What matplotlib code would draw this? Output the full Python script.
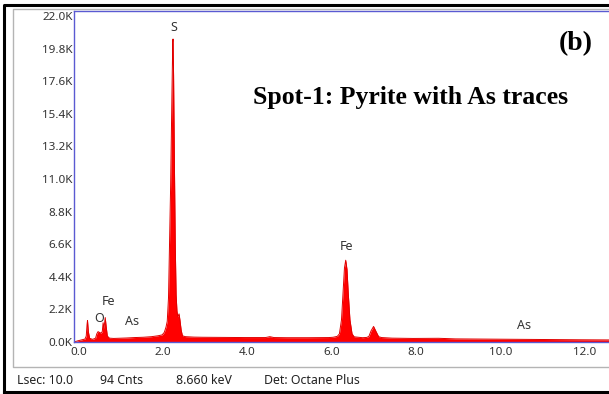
import matplotlib
matplotlib.use("Agg")
import matplotlib.pyplot as plt
import matplotlib.transforms as mtrans
from matplotlib.lines import Line2D

# EDS spectrum, spot 1 (energy in keV, counts)
energy = [-0.04, 0.05, 0.15, 0.22, 0.25, 0.27, 0.28, 0.30, 0.33, 0.40,
          0.47, 0.50, 0.53, 0.56, 0.60, 0.63, 0.65, 0.67, 0.70, 0.72,
          0.75, 0.80, 0.90, 1.00, 1.20, 1.40, 1.60, 1.80, 1.95, 2.05,
          2.10, 2.14, 2.17, 2.20, 2.22, 2.25, 2.28, 2.30, 2.307, 2.32,
          2.34, 2.36, 2.38, 2.40, 2.42, 2.45, 2.47, 2.50, 2.53, 2.60,
          2.80, 3.00, 3.50, 4.00, 4.50, 4.60, 4.70, 5.00, 5.50, 6.00,
          6.10, 6.20, 6.25, 6.30, 6.34, 6.37, 6.40, 6.43, 6.46, 6.50,
          6.55, 6.60, 6.80, 6.90, 6.95, 7.00, 7.06, 7.12, 7.18, 7.25,
          7.50, 8.00, 8.60, 9.00, 10.00, 11.00, 12.00, 12.64]
counts = [0, 80, 150, 200, 400, 1200, 1450, 700, 250, 180,
          250, 550, 700, 650, 600, 700, 1300, 900, 1650, 1100,
          400, 260, 240, 250, 270, 300, 320, 360, 420, 480,
          650, 1000, 1400, 3000, 6000, 10500, 16500, 20200, 20450, 18000,
          12000, 6500, 3200, 2100, 1700, 1900, 1500, 800, 420, 360,
          330, 320, 310, 300, 300, 360, 300, 290, 290, 300,
          320, 380, 550, 1500, 3500, 5000, 5520, 4900, 3300, 1500,
          550, 350, 290, 310, 380, 750, 1050, 700, 360, 300,
          260, 240, 250, 210, 190, 170, 150, 140]

# peak labels
peak_names = ["S", "Fe", "Fe", "O", "As", "As"]
peak_x = [2.32, 6.43, 0.77, 0.56, 1.34, 10.63]
peak_y = [21200, 6450, 2750, 1600, 1350, 1140]

yticks = [0, 2200, 4400, 6600, 8800, 11000, 13200, 15400, 17600, 19800, 22000]
ytick_labels = ["0.0K", "2.2K", "4.4K", "6.6K", "8.8K", "11.0K", "13.2K",
                "15.4K", "17.6K", "19.8K", "22.0K"]
xticks = [0, 2, 4, 6, 8, 10, 12]
xtick_labels = ["0.0", "2.0", "4.0", "6.0", "8.0", "10.0", "12.0"]

status = ["Lsec: 10.0", "94 Cnts", "8.660 keV", "Det: Octane Plus"]
status_x = [17, 100, 176, 264]

W, H = 609, 394
fig = plt.figure(figsize=(W / 100, H / 100), dpi=100)
fig.patch.set_facecolor("white")

def fx(px):
    return px / W

def fy(py):
    return 1 - py / H

ax = fig.add_axes([fx(74), fy(342), 1 - fx(74), fy(11) - fy(342)])
ax.fill_between(energy, counts, 0, color="#ff0000", lw=0)
ax.plot(energy, counts, color="#e00000", lw=0.7)
ax.set_xlim(-0.04, 12.64)
ax.set_ylim(0, 22340)

blue = "#5a5ad2"
for s in ["left", "bottom", "top"]:
    ax.spines[s].set_color(blue)
    ax.spines[s].set_linewidth(1.0)
ax.spines["right"].set_visible(False)

tick_font = dict(family="Noto Sans", size=8.4, color="#333333")
ax.set_yticks(yticks)
ax.set_yticklabels(ytick_labels, **tick_font)
ax.set_xticks(xticks)
ax.set_xticklabels(xtick_labels, **tick_font)
ax.tick_params(axis="y", length=0, pad=1)
ax.tick_params(axis="x", length=0, pad=3.5)

# x labels sit a few pixels right of their ticks
shift = mtrans.ScaledTranslation(3 / 100, 0, fig.dpi_scale_trans)
for lab in ax.get_xticklabels():
    lab.set_transform(lab.get_transform() + shift)

for name, x, y in zip(peak_names, peak_x, peak_y):
    ax.text(x, y, name, ha="center", va="center",
            family="Noto Sans", size=9, color="#333333")

# frames around the plot panel
fig.add_artist(Line2D([fx(4), fx(4), 1], [fy(392), fy(5), fy(5)],
                      color="black", lw=2.2, transform=fig.transFigure))
fig.add_artist(Line2D([fx(4), 1], [fy(392), fy(392)],
                      color="black", lw=2.2, transform=fig.transFigure))
fig.add_artist(Line2D([1, fx(13), fx(13), 1], [fy(9), fy(9), fy(367), fy(367)],
                      color="#b4b4b4", lw=1.0, transform=fig.transFigure))

for txt, x in zip(status, status_x):
    fig.text(fx(x), fy(381), txt, ha="left", va="center",
             family="Noto Sans", size=8.9, color="#222222")

fig.text(fx(593), fy(50), "(b)", ha="right", va="baseline",
         family="Liberation Serif", weight="bold", size=20)
fig.text(fx(411), fy(104), "Spot-1: Pyrite with As traces", ha="center",
         va="baseline", family="Liberation Serif", weight="bold", size=18.5)

fig.savefig("out.png", dpi=100)
